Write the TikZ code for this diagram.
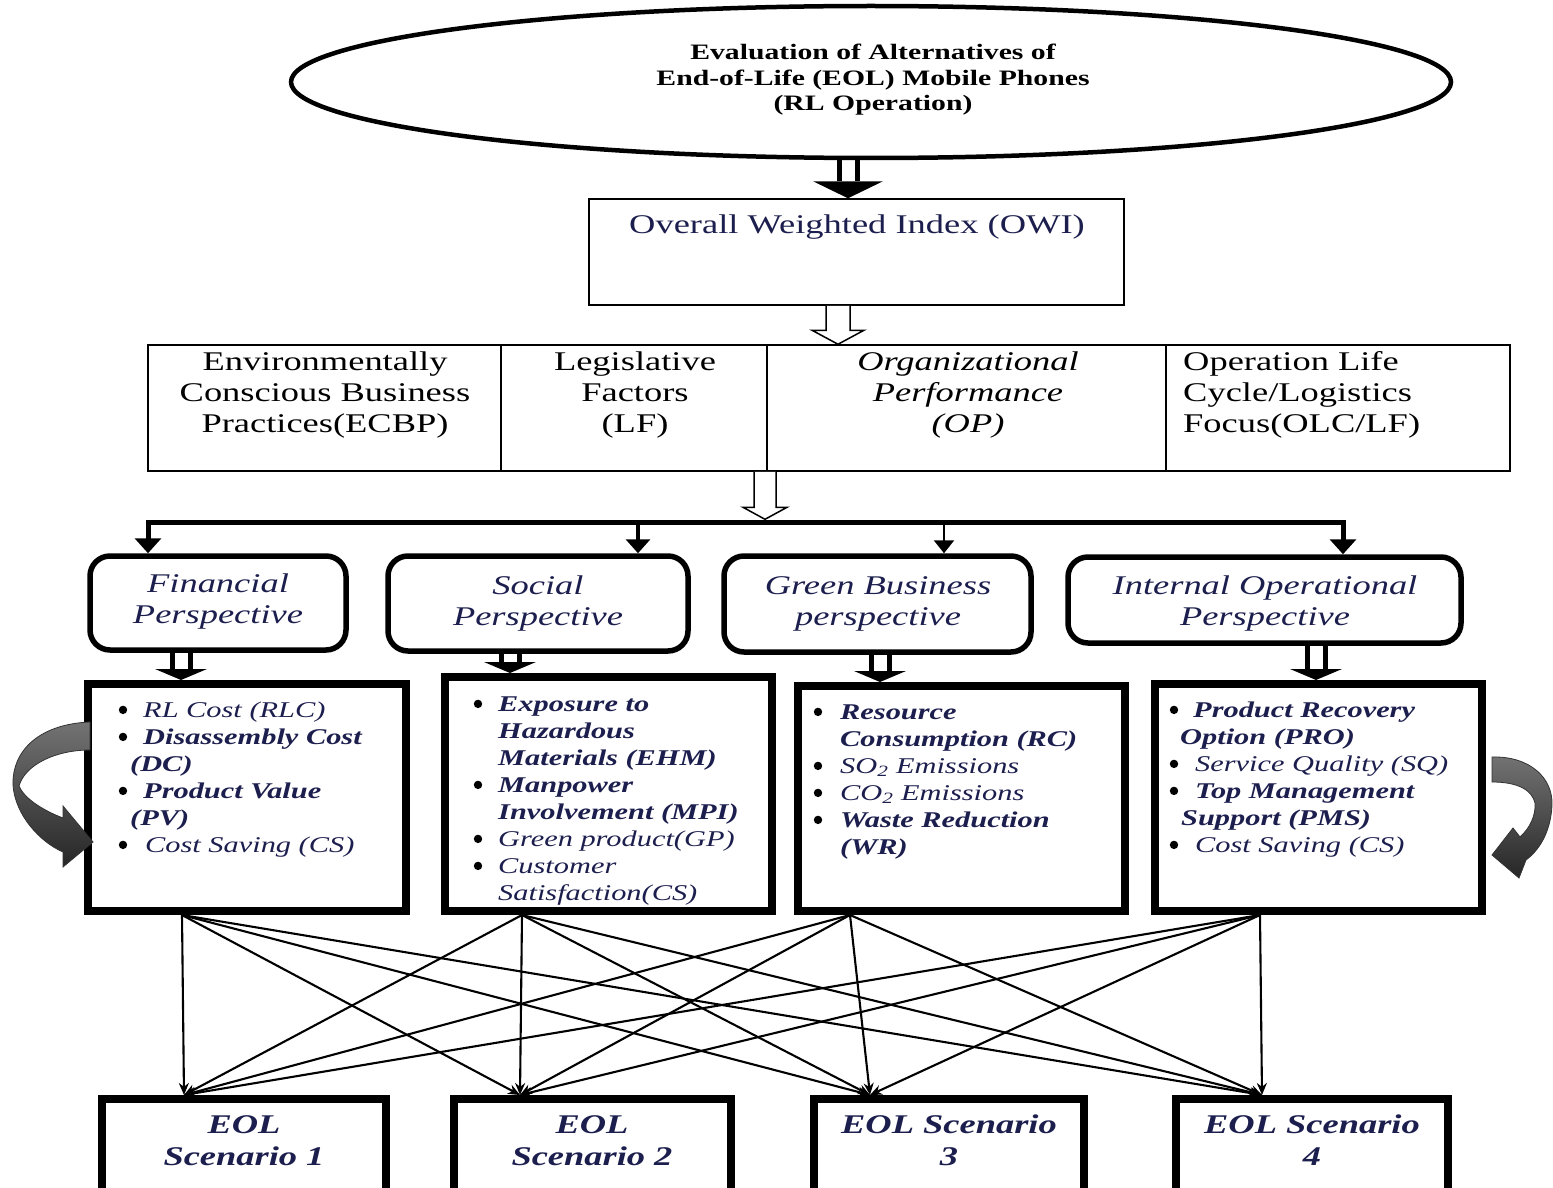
\documentclass[tikz,border=0pt]{standalone}
\usepackage{fontspec}
\setmainfont{Liberation Serif}[FakeStretch=1.35]
\usetikzlibrary{shapes.geometric,arrows.meta,calc}
\definecolor{navytxt}{RGB}{28,30,78}
\newcommand\fsz[2]{\fontsize{#1pt}{#2pt}\selectfont}
\newcommand\bulx[1]{\hspace*{#1pt}}
\newcommand\indx[1]{\hspace*{#1pt}}
\newcommand\blkarrow[5]{%
  \draw[line width=5pt] let \p1=(#1.south), \p2=(#2.north) in
    (#3pt-9pt,\y1) -- (#3pt-9pt,\y2+#5pt) (#3pt+9pt,\y1) -- (#3pt+9pt,\y2+#5pt);
  \fill let \p1=(#1.south), \p2=(#2.north) in
    (#3pt-#4pt,\y2+#5pt) -- (#3pt+#4pt,\y2+#5pt) -- (#3pt,\y2) -- cycle;}
\newcommand\holarrow[6]{%
  \draw[line width=1.5pt, fill=white, line join=miter] let \p1=(#1.south), \p2=(#2.north) in
    (#3pt-#4pt,\y1) -- (#3pt-#4pt,\y2+#6pt) -- (#3pt-#5pt,\y2+#6pt) -- (#3pt,\y2)
    -- (#3pt+#5pt,\y2+#6pt) -- (#3pt+#4pt,\y2+#6pt) -- (#3pt+#4pt,\y1);}
\begin{document}
\begin{tikzpicture}[x=1pt,y=-1pt,
  every node/.style={inner sep=0pt},
  cell/.style={draw, line width=1.5pt},
  ctxt/.style={font=\fsz{27}{31}, align=center, anchor=north},
  pbox/.style={draw, line width=5.5pt, rounded corners=20pt},
  ptxt/.style={font=\fsz{27}{31}\itshape, text=navytxt, align=center, anchor=north},
  bbox/.style={draw, line width=8pt},
  btxt/.style={font=\fsz{22.5}{27}\itshape, text=navytxt, align=left, anchor=north west},
  sbox/.style={draw, line width=8pt},
  stxt/.style={font=\fsz{27}{32}\bfseries\itshape, text=navytxt, align=center, anchor=north},
  fan/.style={line width=2.1pt, -{Stealth[length=12pt,width=10pt]}},
  curv/.style={top color=black!55, bottom color=black!85, draw=black!80, line width=0.8pt}]
\useasboundingbox (0,0) rectangle (1553,1188);
\fill[white] (0,0) rectangle (1553,1188);
\clip (0,0) rectangle (1553,1188);

% top ellipse
\node[draw, ellipse, line width=4.5pt, minimum width=1160, minimum height=152] (top) at (871,82) {};
\node[font=\fsz{22}{25.5}\bfseries, align=center, anchor=north] (topt) at (873,41.6)
  {\strut Evaluation of Alternatives of\\ End-of-Life (EOL) Mobile Phones\\ (RL Operation)};

% OWI
\node[draw, line width=1.5pt, minimum width=535, minimum height=106] (owi) at (856.5,252) {};
\node[font=\fsz{27}{31}, text=navytxt, anchor=base] (owit) at (857,233) {Overall Weighted Index (OWI)};

% criteria row
\node[cell, minimum width=353, minimum height=126] (c1) at (324.5,408) {};
\node[cell, minimum width=266, minimum height=126] (c2) at (634,408) {};
\node[cell, minimum width=399, minimum height=126] (c3) at (966.5,408) {};
\node[cell, minimum width=344, minimum height=126] (c4) at (1338,408) {};
\node[ctxt] (c1t) at (325,348.3) {\strut Environmentally\\ Conscious Business\\ Practices(ECBP)};
\node[ctxt] (c2t) at (635,348.3) {\strut Legislative\\ Factors\\ (LF)};
\node[ctxt, font=\fsz{27}{31}\itshape] (c3t) at (968,348.3) {\strut Organizational\\ Performance\\ (OP)};
\node[ctxt, anchor=north west, align=left] (c4t) at (1183,348.3) {\strut Operation Life\\ Cycle/Logistics\\ Focus(OLC/LF)};

% perspectives
\node[pbox, minimum width=256, minimum height=94] (p1) at (218,603) {};
\node[pbox, minimum width=300, minimum height=95] (p2) at (538,603.5) {};
\node[pbox, minimum width=307, minimum height=96] (p3) at (877.5,604) {};
\node[pbox, minimum width=393, minimum height=86] (p4) at (1264.5,600) {};
\node[ptxt] (p1t) at (218,570.3) {\strut Financial\\ Perspective};
\node[ptxt] (p2t) at (538,572.3) {\strut Social\\ Perspective};
\node[ptxt] (p3t) at (878,572.3) {\strut Green Business\\ perspective};
\node[ptxt] (p4t) at (1265,572.3) {\strut Internal Operational\\ Perspective};

% bus
\coordinate (bl) at (148,522);
\coordinate (br) at (1343,522);
\coordinate (bm2) at (638,522);
\coordinate (bm3) at (944,522);
\node[minimum size=0pt] (bus) at (765,519.5) {};
\draw[line width=5pt, line join=miter, {Triangle[width=26pt,length=15pt]}-{Triangle[width=26pt,length=15pt]}]
  (p1.north -| bl) -- (bl) -- (br) -- (p4.north -| br);
\draw[line width=4pt, -{Triangle[width=24pt,length=14pt]}] (bm2) -- (p2.north -| bm2);
\draw[line width=2.5pt, -{Triangle[width=20pt,length=13pt]}] (bm3) -- (p3.north -| bm3);

% bullet boxes
\node[bbox, minimum width=318, minimum height=227] (b1) at (247,797.5) {};
\node[bbox, minimum width=327, minimum height=234] (b2) at (608.5,794) {};
\node[bbox, minimum width=327, minimum height=225] (b3) at (961.5,798.5) {};
\node[bbox, minimum width=327, minimum height=227] (b4) at (1318.5,797.5) {};

\node[btxt] (b1t) at (117,698) {\strut\bulx{26}RL Cost (RLC)\\
  \bulx{26}\textbf{Disassembly Cost}\\ \indx{13}\textbf{(DC)}\\
  \bulx{26}\textbf{Product Value}\\ \indx{13}\textbf{(PV)}\\
  \bulx{28}Cost Saving (CS)};
\node[btxt] (b2t) at (472,692) {\strut\bulx{26}\textbf{Exposure to}\\ \indx{26}\textbf{Hazardous}\\ \indx{26}\textbf{Materials (EHM)}\\
  \bulx{26}\textbf{Manpower}\\ \indx{26}\textbf{Involvement (MPI)}\\
  \bulx{26}Green product(GP)\\
  \bulx{26}Customer\\ \indx{26}Satisfaction(CS)};
\node[btxt] (b3t) at (812,700) {\strut\bulx{28}\textbf{Resource}\\ \indx{28}\textbf{Consumption (RC)}\\
  \bulx{28}SO\textsubscript{2} Emissions\\
  \bulx{28}CO\textsubscript{2} Emissions\\
  \bulx{28}\textbf{Waste Reduction}\\ \indx{28}\textbf{(WR)}};
\node[btxt] (b4t) at (1168,698) {\strut\bulx{25}\textbf{Product Recovery}\\ \indx{12}\textbf{Option (PRO)}\\
  \bulx{27}Service Quality (SQ)\\
  \bulx{27}\textbf{Top Management}\\ \indx{13}\textbf{Support (PMS)}\\
  \bulx{27}Cost Saving (CS)};

% bullet dots
\foreach \k in {0,1,3,5}{\fill (123,709.9+27*\k) circle (4.2);}
\foreach \k in {0,3,5,6}{\fill (478,703.9+27*\k) circle (4.2);}
\foreach \k in {0,2,3,4}{\fill (818,711.9+27*\k) circle (4.2);}
\foreach \k in {0,2,3,5}{\fill (1174,709.9+27*\k) circle (4.2);}

% block arrows
\blkarrow{top}{owi}{848}{35}{17}
\holarrow{owi}{c3}{838}{12}{26}{14}
\holarrow{c2}{bus}{765}{11}{22}{12}
\blkarrow{p1}{b1}{181}{26}{11}
\blkarrow{p2}{b2}{510}{26}{11}
\blkarrow{p3}{b3}{880}{26}{11}
\blkarrow{p4}{b4}{1316}{26}{11}

% curved arrows
\shadedraw[curv] (90,722) .. controls (40,724) and (12,750) .. (13,785)
  .. controls (15,815) and (40,842) .. (63,852) -- (63,867) -- (93,842) -- (63,806) -- (63,818)
  .. controls (42,810) and (24,798) .. (19,786) .. controls (25,765) and (55,750) .. (90,750) -- cycle;
\shadedraw[curv] (1492,757) .. controls (1530,756) and (1553,778) .. (1552,805)
  .. controls (1551,828) and (1542,848) .. (1526,860) -- (1519,878) -- (1492,855) -- (1513,828) -- (1520,837)
  .. controls (1530,828) and (1536,815) .. (1535,803) .. controls (1532,790) and (1518,782) .. (1492,782) -- cycle;

% scenario boxes
\node[sbox, minimum width=284, minimum height=131] (s1) at (244,1164.5) {};
\node[sbox, minimum width=277, minimum height=131] (s2) at (592.5,1164.5) {};
\node[sbox, minimum width=270, minimum height=131] (s3) at (949,1164.5) {};
\node[sbox, minimum width=272, minimum height=131] (s4) at (1312,1164.5) {};
\node[stxt] (s1t) at (244,1110.6) {\strut EOL\\ Scenario 1};
\node[stxt] (s2t) at (592,1110.6) {\strut EOL\\ Scenario 2};
\node[stxt] (s3t) at (949,1110.6) {\strut EOL Scenario\\ 3};
\node[stxt] (s4t) at (1312,1110.6) {\strut EOL Scenario\\ 4};

% fan connectors
\coordinate (o1) at (182,915);
\coordinate (o2) at (522,915);
\coordinate (o3) at (850,915);
\coordinate (o4) at (1260,915);
\coordinate (a1) at (184,1095);
\coordinate (a2) at (520,1095);
\coordinate (a3) at (870,1095);
\coordinate (a4) at (1262,1095);
\foreach \i in {1,...,4}{\foreach \j in {1,...,4}{\draw[fan] (o\i) -- (a\j);}}
\end{tikzpicture}
\end{document}
